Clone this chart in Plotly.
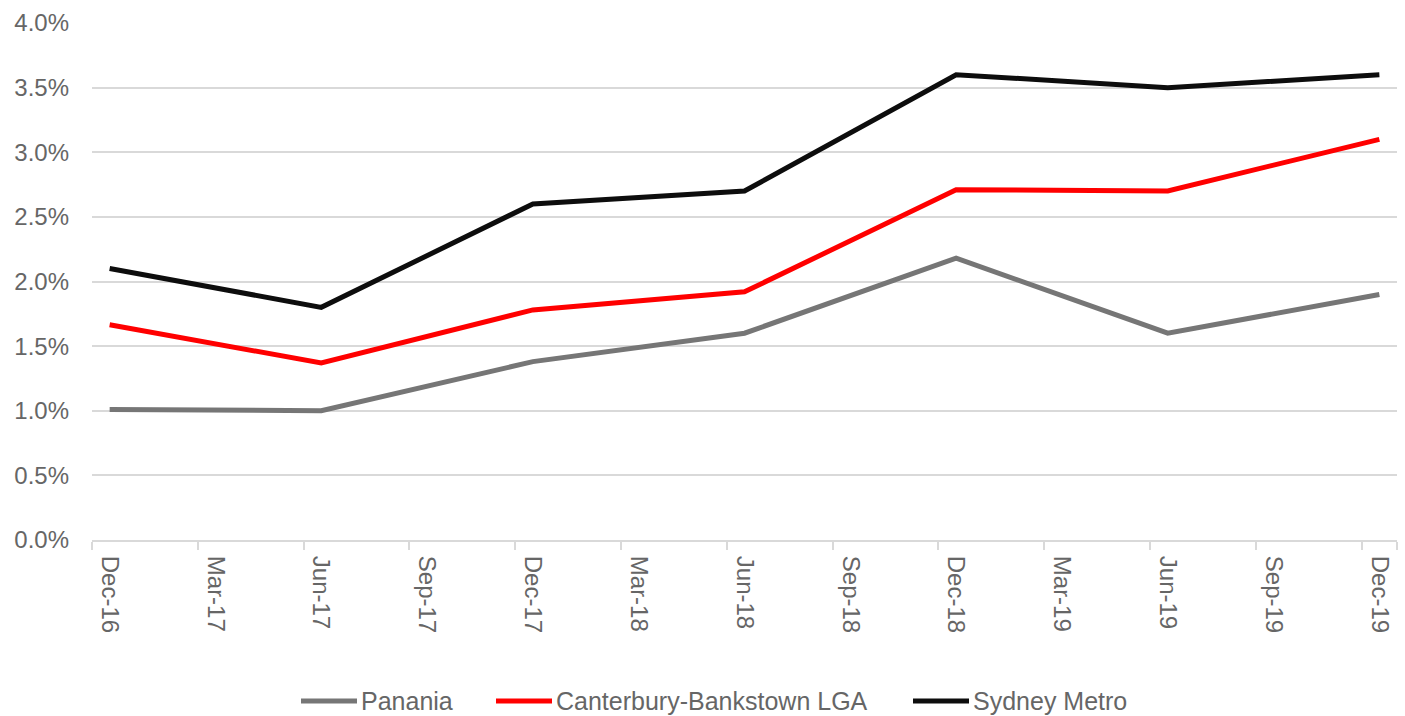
import plotly.graph_objects as go

# ---- data ----
tick_labels = ["Dec-16", "Mar-17", "Jun-17", "Sep-17", "Dec-17", "Mar-18", "Jun-18",
               "Sep-18", "Dec-18", "Mar-19", "Jun-19", "Sep-19", "Dec-19"]
periods = ["Dec-16", "Jun-17", "Dec-17", "Jun-18", "Dec-18", "Jun-19", "Dec-19"]
panania = [1.01, 1.00, 1.38, 1.60, 2.18, 1.60, 1.90]
canterbury = [1.665, 1.37, 1.78, 1.92, 2.71, 2.70, 3.10]
sydney = [2.10, 1.80, 2.60, 2.70, 3.60, 3.50, 3.60]

series_names = ["Panania", "Canterbury-Bankstown LGA", "Sydney Metro"]
series_values = [panania, canterbury, sydney]
series_colors = ["#767676", "#ff0000", "#0d0d0d"]

# month offsets from Dec-16 (quarterly tick labels are 3 months apart)
month_of = {lab: 3 * i for i, lab in enumerate(tick_labels)}
x_vals = [month_of[p] for p in periods]

W, H = 1405, 716
ML, MR, MT, MB = 92, 8, 23, 176
PW, PH = W - ML - MR, H - MT - MB

fig = go.Figure()
for name, vals, col in zip(series_names, series_values, series_colors):
    fig.add_trace(go.Scatter(
        x=x_vals, y=vals, name=name, mode="lines",
        line=dict(color=col, width=5), showlegend=False,
        hovertemplate="%{y:.2f}%<extra>" + name + "</extra>",
    ))

font_col = "#666666"
grid_col = "#d9d9d9"
n_months = month_of[tick_labels[-1]] + 1

fig.update_layout(
    width=W, height=H,
    margin=dict(l=ML, r=MR, t=MT, b=MB),
    paper_bgcolor="white", plot_bgcolor="white",
    font=dict(family="Liberation Sans, Arial, sans-serif", size=24, color=font_col),
    xaxis=dict(
        range=[-0.5, n_months - 0.5],
        tickmode="array",
        tickvals=[month_of[t] for t in tick_labels],
        ticktext=tick_labels,
        tickangle=90,
        ticks="", showgrid=False, zeroline=False,
        showline=True, linecolor=grid_col, linewidth=2,
        ticklabelstandoff=9,
        tickfont=dict(size=24, color=font_col),
        minor=dict(tickvals=[month_of[t] - 0.5 for t in tick_labels] + [n_months - 0.5],
                   ticks="outside", ticklen=8, tickcolor=grid_col, tickwidth=2, showgrid=False),
    ),
    yaxis=dict(
        range=[0, 4.0], dtick=0.5, tick0=0,
        tickformat=".1f", ticksuffix="%",
        showgrid=True, gridcolor=grid_col, gridwidth=1.5,
        zeroline=False, showline=False, ticks="",
        ticklabelstandoff=22,
        tickfont=dict(size=24, color=font_col),
    ),
)

# custom legend (bottom, centered) built from series names/colours
leg_y = (MT + PH - 701) / PH  # paper coords
line_starts = [301, 496, 913]
for name, col, lx in zip(series_names, series_colors, line_starts):
    x0 = (lx - ML) / PW
    x1 = (lx + 56 - ML) / PW
    fig.add_shape(type="line", xref="paper", yref="paper",
                  x0=x0, x1=x1, y0=leg_y, y1=leg_y,
                  line=dict(color=col, width=5), layer="above")
    fig.add_annotation(xref="paper", yref="paper", x=(lx + 58 - ML) / PW, y=leg_y,
                       text=name, showarrow=False, xanchor="left", yanchor="middle",
                       font=dict(size=25, color=font_col))

fig.write_html("out.html")
